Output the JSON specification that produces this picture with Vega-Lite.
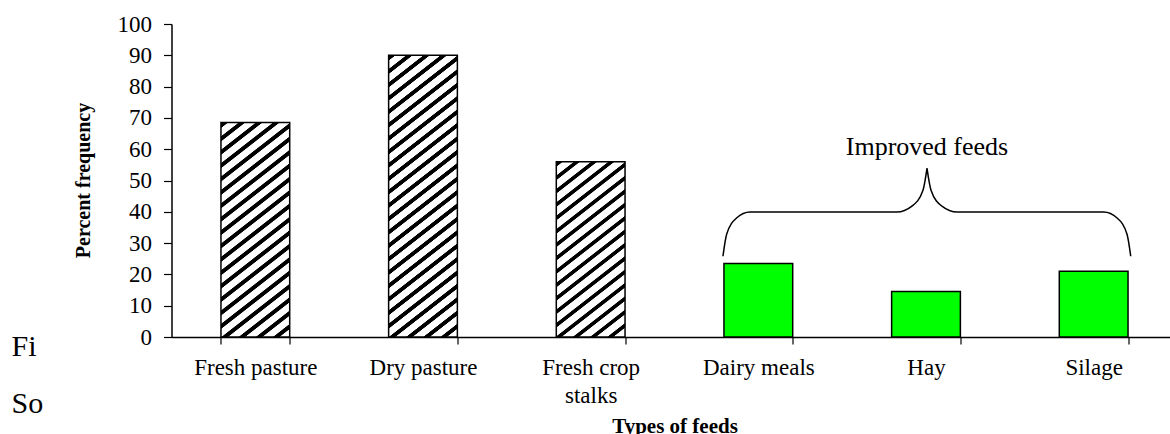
{
  "$schema": "https://vega.github.io/schema/vega-lite/v6.json",
  "autosize": "none",
  "width": 1006,
  "height": 313,
  "padding": {"left": 171.5, "top": 24, "right": 0, "bottom": 97},
  "background": "white",
  "title": {"text": ["Fi", "So"], "anchor": "start", "frame": "group", "orient": "top", "offset": 0, "dx": -160, "dy": 430, "baseline": "alphabetic", "lineHeight": 57, "font": "Liberation Serif", "fontSize": 30, "fontWeight": "normal", "color": "black"},
  "config": {
    "view": {"stroke": null},
    "axis": {"grid": false},
    "axisY": {
      "titleFont": "Liberation Serif", "titleFontSize": 20, "titleFontWeight": "bold", "titleColor": "black",
      "titleAngle": 270, "titleX": -82.5, "titleY": 156, "titleAlign": "center", "titleBaseline": "alphabetic",
      "tickCount": 10, "labelOverlap": false,
      "labelFont": "Liberation Serif", "labelFontSize": 23, "labelColor": "black", "labelPadding": 12, "labelBaseline": "middle",
      "tickSize": 8, "tickColor": "black", "tickWidth": 1.2,
      "domainColor": "black", "domainWidth": 1.5
    }
  },
  "datasets": {
    "feeds": [
      {"feed": "Fresh pasture", "pct": 68.5, "kind": "traditional"},
      {"feed": "Dry pasture", "pct": 90, "kind": "traditional"},
      {"feed": "Fresh crop stalks", "pct": 56, "kind": "traditional"},
      {"feed": "Dairy meals", "pct": 23.5, "kind": "improved"},
      {"feed": "Hay", "pct": 14.5, "kind": "improved"},
      {"feed": "Silage", "pct": 21, "kind": "improved"}
    ],
    "brace": [
      {"bx": 3.289, "by": 25.8, "half": "L"},
      {"bx": 3.311, "by": 32.8, "half": "L"},
      {"bx": 3.370, "by": 38.0, "half": "L"},
      {"bx": 3.450, "by": 39.9, "half": "L"},
      {"bx": 4.327, "by": 39.9, "half": "L"},
      {"bx": 4.416, "by": 41.8, "half": "L"},
      {"bx": 4.482, "by": 46.9, "half": "L"},
      {"bx": 4.506, "by": 53.9, "half": "L"},
      {"bx": 4.506, "by": 53.9, "half": "R"},
      {"bx": 4.530, "by": 46.9, "half": "R"},
      {"bx": 4.595, "by": 41.8, "half": "R"},
      {"bx": 4.685, "by": 39.9, "half": "R"},
      {"bx": 5.560, "by": 39.9, "half": "R"},
      {"bx": 5.640, "by": 38.0, "half": "R"},
      {"bx": 5.699, "by": 32.8, "half": "R"},
      {"bx": 5.721, "by": 25.8, "half": "R"}
    ],
    "note": [
      {"label": "Improved feeds", "bx": 4.506, "by": 58.1}
    ]
  },
  "layer": [
    {
      "data": {"name": "feeds"},
      "mark": {"type": "bar", "stroke": "black", "strokeWidth": 1.5},
      "encoding": {
        "x": {
          "field": "feed", "type": "nominal", "sort": null,
          "scale": {"paddingInner": 0.59, "paddingOuter": 0.295},
          "axis": {
            "title": "Types of feeds", "titleFont": "Liberation Serif", "titleFontSize": 21, "titleFontWeight": "bold", "titleColor": "black",
            "titleBaseline": "alphabetic", "titleY": 95,
            "labelFont": "Liberation Serif", "labelFontSize": 23, "labelColor": "black", "labelAngle": 0,
            "labelBaseline": "alphabetic", "labelPadding": 30, "labelLineHeight": 28, "labelLimit": 400, "labelOverlap": false,
            "labelExpr": "datum.value === 'Fresh crop stalks' ? ['Fresh crop', 'stalks'] : datum.value",
            "tickBand": "extent", "tickSize": 7, "tickColor": "black", "tickWidth": 1.2,
            "domainColor": "black", "domainWidth": 1.5
          }
        },
        "y": {
          "field": "pct", "type": "quantitative", "title": "Percent frequency",
          "scale": {"domain": [0, 100], "nice": false}
        },
        "fill": {
          "condition": [
            {"test": "datum.feed === 'Fresh pasture'", "value": {"gradient": "linear", "x1": 0, "y1": 0, "x2": 0.294, "y2": 1.176, "stops": [
              {"offset": 0, "color": "#fff"}, {"offset": 0.003, "color": "#000"}, {"offset": 0.019, "color": "#000"}, {"offset": 0.022, "color": "#fff"},
              {"offset": 0.05, "color": "#fff"}, {"offset": 0.053, "color": "#000"}, {"offset": 0.069, "color": "#000"}, {"offset": 0.072, "color": "#fff"},
              {"offset": 0.1, "color": "#fff"}, {"offset": 0.103, "color": "#000"}, {"offset": 0.119, "color": "#000"}, {"offset": 0.122, "color": "#fff"},
              {"offset": 0.15, "color": "#fff"}, {"offset": 0.153, "color": "#000"}, {"offset": 0.169, "color": "#000"}, {"offset": 0.172, "color": "#fff"},
              {"offset": 0.2, "color": "#fff"}, {"offset": 0.203, "color": "#000"}, {"offset": 0.219, "color": "#000"}, {"offset": 0.222, "color": "#fff"},
              {"offset": 0.25, "color": "#fff"}, {"offset": 0.253, "color": "#000"}, {"offset": 0.269, "color": "#000"}, {"offset": 0.272, "color": "#fff"},
              {"offset": 0.3, "color": "#fff"}, {"offset": 0.303, "color": "#000"}, {"offset": 0.319, "color": "#000"}, {"offset": 0.322, "color": "#fff"},
              {"offset": 0.35, "color": "#fff"}, {"offset": 0.353, "color": "#000"}, {"offset": 0.369, "color": "#000"}, {"offset": 0.372, "color": "#fff"},
              {"offset": 0.4, "color": "#fff"}, {"offset": 0.403, "color": "#000"}, {"offset": 0.419, "color": "#000"}, {"offset": 0.422, "color": "#fff"},
              {"offset": 0.45, "color": "#fff"}, {"offset": 0.453, "color": "#000"}, {"offset": 0.469, "color": "#000"}, {"offset": 0.472, "color": "#fff"},
              {"offset": 0.5, "color": "#fff"}, {"offset": 0.503, "color": "#000"}, {"offset": 0.519, "color": "#000"}, {"offset": 0.522, "color": "#fff"},
              {"offset": 0.55, "color": "#fff"}, {"offset": 0.553, "color": "#000"}, {"offset": 0.569, "color": "#000"}, {"offset": 0.572, "color": "#fff"},
              {"offset": 0.6, "color": "#fff"}, {"offset": 0.603, "color": "#000"}, {"offset": 0.619, "color": "#000"}, {"offset": 0.622, "color": "#fff"},
              {"offset": 0.65, "color": "#fff"}, {"offset": 0.653, "color": "#000"}, {"offset": 0.669, "color": "#000"}, {"offset": 0.672, "color": "#fff"},
              {"offset": 0.7, "color": "#fff"}, {"offset": 0.703, "color": "#000"}, {"offset": 0.719, "color": "#000"}, {"offset": 0.722, "color": "#fff"},
              {"offset": 0.75, "color": "#fff"}, {"offset": 0.753, "color": "#000"}, {"offset": 0.769, "color": "#000"}, {"offset": 0.772, "color": "#fff"},
              {"offset": 0.8, "color": "#fff"}, {"offset": 0.803, "color": "#000"}, {"offset": 0.819, "color": "#000"}, {"offset": 0.822, "color": "#fff"},
              {"offset": 0.85, "color": "#fff"}, {"offset": 0.853, "color": "#000"}, {"offset": 0.869, "color": "#000"}, {"offset": 0.872, "color": "#fff"},
              {"offset": 0.9, "color": "#fff"}, {"offset": 0.903, "color": "#000"}, {"offset": 0.919, "color": "#000"}, {"offset": 0.922, "color": "#fff"},
              {"offset": 0.95, "color": "#fff"}, {"offset": 0.953, "color": "#000"}, {"offset": 0.969, "color": "#000"}, {"offset": 0.972, "color": "#fff"},
              {"offset": 1, "color": "#fff"}
            ]}},
            {"test": "datum.feed === 'Dry pasture'", "value": {"gradient": "linear", "x1": 0, "y1": 0, "x2": 0.2184, "y2": 1.148, "stops": [
              {"offset": 0, "color": "#fff"}, {"offset": 0.002, "color": "#000"}, {"offset": 0.015, "color": "#000"}, {"offset": 0.017, "color": "#fff"},
              {"offset": 0.04, "color": "#fff"}, {"offset": 0.042, "color": "#000"}, {"offset": 0.055, "color": "#000"}, {"offset": 0.057, "color": "#fff"},
              {"offset": 0.08, "color": "#fff"}, {"offset": 0.082, "color": "#000"}, {"offset": 0.095, "color": "#000"}, {"offset": 0.097, "color": "#fff"},
              {"offset": 0.12, "color": "#fff"}, {"offset": 0.122, "color": "#000"}, {"offset": 0.135, "color": "#000"}, {"offset": 0.137, "color": "#fff"},
              {"offset": 0.16, "color": "#fff"}, {"offset": 0.162, "color": "#000"}, {"offset": 0.175, "color": "#000"}, {"offset": 0.177, "color": "#fff"},
              {"offset": 0.2, "color": "#fff"}, {"offset": 0.202, "color": "#000"}, {"offset": 0.215, "color": "#000"}, {"offset": 0.217, "color": "#fff"},
              {"offset": 0.24, "color": "#fff"}, {"offset": 0.242, "color": "#000"}, {"offset": 0.255, "color": "#000"}, {"offset": 0.257, "color": "#fff"},
              {"offset": 0.28, "color": "#fff"}, {"offset": 0.282, "color": "#000"}, {"offset": 0.295, "color": "#000"}, {"offset": 0.297, "color": "#fff"},
              {"offset": 0.32, "color": "#fff"}, {"offset": 0.322, "color": "#000"}, {"offset": 0.335, "color": "#000"}, {"offset": 0.337, "color": "#fff"},
              {"offset": 0.36, "color": "#fff"}, {"offset": 0.362, "color": "#000"}, {"offset": 0.375, "color": "#000"}, {"offset": 0.377, "color": "#fff"},
              {"offset": 0.4, "color": "#fff"}, {"offset": 0.402, "color": "#000"}, {"offset": 0.415, "color": "#000"}, {"offset": 0.417, "color": "#fff"},
              {"offset": 0.44, "color": "#fff"}, {"offset": 0.442, "color": "#000"}, {"offset": 0.455, "color": "#000"}, {"offset": 0.457, "color": "#fff"},
              {"offset": 0.48, "color": "#fff"}, {"offset": 0.482, "color": "#000"}, {"offset": 0.495, "color": "#000"}, {"offset": 0.497, "color": "#fff"},
              {"offset": 0.52, "color": "#fff"}, {"offset": 0.522, "color": "#000"}, {"offset": 0.535, "color": "#000"}, {"offset": 0.537, "color": "#fff"},
              {"offset": 0.56, "color": "#fff"}, {"offset": 0.562, "color": "#000"}, {"offset": 0.575, "color": "#000"}, {"offset": 0.577, "color": "#fff"},
              {"offset": 0.6, "color": "#fff"}, {"offset": 0.602, "color": "#000"}, {"offset": 0.615, "color": "#000"}, {"offset": 0.617, "color": "#fff"},
              {"offset": 0.64, "color": "#fff"}, {"offset": 0.642, "color": "#000"}, {"offset": 0.655, "color": "#000"}, {"offset": 0.657, "color": "#fff"},
              {"offset": 0.68, "color": "#fff"}, {"offset": 0.682, "color": "#000"}, {"offset": 0.695, "color": "#000"}, {"offset": 0.697, "color": "#fff"},
              {"offset": 0.72, "color": "#fff"}, {"offset": 0.722, "color": "#000"}, {"offset": 0.735, "color": "#000"}, {"offset": 0.737, "color": "#fff"},
              {"offset": 0.76, "color": "#fff"}, {"offset": 0.762, "color": "#000"}, {"offset": 0.775, "color": "#000"}, {"offset": 0.777, "color": "#fff"},
              {"offset": 0.8, "color": "#fff"}, {"offset": 0.802, "color": "#000"}, {"offset": 0.815, "color": "#000"}, {"offset": 0.817, "color": "#fff"},
              {"offset": 0.84, "color": "#fff"}, {"offset": 0.842, "color": "#000"}, {"offset": 0.855, "color": "#000"}, {"offset": 0.857, "color": "#fff"},
              {"offset": 0.88, "color": "#fff"}, {"offset": 0.882, "color": "#000"}, {"offset": 0.895, "color": "#000"}, {"offset": 0.897, "color": "#fff"},
              {"offset": 0.92, "color": "#fff"}, {"offset": 0.922, "color": "#000"}, {"offset": 0.935, "color": "#000"}, {"offset": 0.937, "color": "#fff"},
              {"offset": 0.96, "color": "#fff"}, {"offset": 0.962, "color": "#000"}, {"offset": 0.975, "color": "#000"}, {"offset": 0.977, "color": "#fff"},
              {"offset": 1, "color": "#fff"}
            ]}},
            {"test": "datum.feed === 'Fresh crop stalks'", "value": {"gradient": "linear", "x1": 0, "y1": 0, "x2": 0.363, "y2": 1.189, "stops": [
              {"offset": 0, "color": "#fff"}, {"offset": 0.0035, "color": "#000"}, {"offset": 0.0205, "color": "#000"}, {"offset": 0.024, "color": "#fff"},
              {"offset": 0.0588, "color": "#fff"}, {"offset": 0.0623, "color": "#000"}, {"offset": 0.0793, "color": "#000"}, {"offset": 0.0828, "color": "#fff"},
              {"offset": 0.1176, "color": "#fff"}, {"offset": 0.1211, "color": "#000"}, {"offset": 0.1381, "color": "#000"}, {"offset": 0.1416, "color": "#fff"},
              {"offset": 0.1765, "color": "#fff"}, {"offset": 0.18, "color": "#000"}, {"offset": 0.197, "color": "#000"}, {"offset": 0.2005, "color": "#fff"},
              {"offset": 0.2353, "color": "#fff"}, {"offset": 0.2388, "color": "#000"}, {"offset": 0.2558, "color": "#000"}, {"offset": 0.2593, "color": "#fff"},
              {"offset": 0.2941, "color": "#fff"}, {"offset": 0.2976, "color": "#000"}, {"offset": 0.3146, "color": "#000"}, {"offset": 0.3181, "color": "#fff"},
              {"offset": 0.3529, "color": "#fff"}, {"offset": 0.3564, "color": "#000"}, {"offset": 0.3734, "color": "#000"}, {"offset": 0.3769, "color": "#fff"},
              {"offset": 0.4118, "color": "#fff"}, {"offset": 0.4153, "color": "#000"}, {"offset": 0.4323, "color": "#000"}, {"offset": 0.4358, "color": "#fff"},
              {"offset": 0.4706, "color": "#fff"}, {"offset": 0.4741, "color": "#000"}, {"offset": 0.4911, "color": "#000"}, {"offset": 0.4946, "color": "#fff"},
              {"offset": 0.5294, "color": "#fff"}, {"offset": 0.5329, "color": "#000"}, {"offset": 0.5499, "color": "#000"}, {"offset": 0.5534, "color": "#fff"},
              {"offset": 0.5882, "color": "#fff"}, {"offset": 0.5917, "color": "#000"}, {"offset": 0.6087, "color": "#000"}, {"offset": 0.6122, "color": "#fff"},
              {"offset": 0.6471, "color": "#fff"}, {"offset": 0.6506, "color": "#000"}, {"offset": 0.6676, "color": "#000"}, {"offset": 0.6711, "color": "#fff"},
              {"offset": 0.7059, "color": "#fff"}, {"offset": 0.7094, "color": "#000"}, {"offset": 0.7264, "color": "#000"}, {"offset": 0.7299, "color": "#fff"},
              {"offset": 0.7647, "color": "#fff"}, {"offset": 0.7682, "color": "#000"}, {"offset": 0.7852, "color": "#000"}, {"offset": 0.7887, "color": "#fff"},
              {"offset": 0.8235, "color": "#fff"}, {"offset": 0.827, "color": "#000"}, {"offset": 0.844, "color": "#000"}, {"offset": 0.8475, "color": "#fff"},
              {"offset": 0.8824, "color": "#fff"}, {"offset": 0.8859, "color": "#000"}, {"offset": 0.9029, "color": "#000"}, {"offset": 0.9064, "color": "#fff"},
              {"offset": 0.9412, "color": "#fff"}, {"offset": 0.9447, "color": "#000"}, {"offset": 0.9617, "color": "#000"}, {"offset": 0.9652, "color": "#fff"},
              {"offset": 1, "color": "#fff"}
            ]}}
          ],
          "value": "#00ff00"
        }
      }
    },
    {
      "data": {"name": "brace"},
      "mark": {"type": "line", "color": "black", "strokeWidth": 1.5, "interpolate": "monotone"},
      "encoding": {
        "x": {"field": "bx", "type": "quantitative", "scale": {"domain": [0, 6], "nice": false, "zero": false}, "axis": null},
        "y": {"field": "by", "type": "quantitative", "title": "Percent frequency"},
        "detail": {"field": "half", "type": "nominal"}
      }
    },
    {
      "data": {"name": "note"},
      "mark": {"type": "text", "font": "Liberation Serif", "fontSize": 26, "color": "black", "align": "center", "baseline": "alphabetic"},
      "encoding": {
        "x": {"field": "bx", "type": "quantitative", "scale": {"domain": [0, 6], "nice": false, "zero": false}, "axis": null},
        "y": {"field": "by", "type": "quantitative", "title": "Percent frequency"},
        "text": {"field": "label", "type": "nominal"}
      }
    }
  ],
  "resolve": {"scale": {"x": "independent"}}
}
